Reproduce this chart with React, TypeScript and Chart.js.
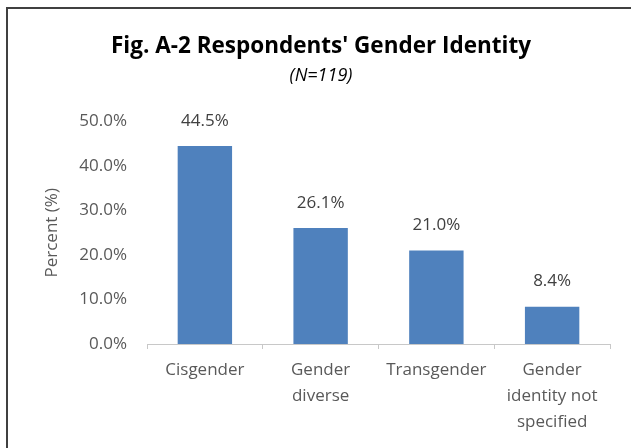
import React, { useEffect, useRef } from "react";
import { Chart, registerables } from "chart.js";

Chart.register(...registerables);

const categories: string[][] = [
  ["Cisgender"],
  ["Gender", "diverse"],
  ["Transgender"],
  ["Gender", "identity not", "specified"],
];
const percentValues: number[] = [44.5, 26.1, 21.0, 8.4];
const yTicks: number[] = [0, 10, 20, 30, 40, 50];
const titleText = "Fig. A-2 Respondents' Gender Identity";
const subtitleText = "(N=119)";
const yAxisTitle = "Percent (%)";

const FONT = "'Open Sans', 'Noto Sans', sans-serif";

const barLabelPlugin = {
  id: "barLabels",
  afterDatasetsDraw(chart: any) {
    const ctx = chart.ctx;
    const meta = chart.getDatasetMeta(0);
    ctx.save();
    ctx.font = `17px ${FONT}`;
    ctx.fillStyle = "#404040";
    ctx.textAlign = "center";
    ctx.textBaseline = "middle";
    meta.data.forEach((bar: any, i: number) => {
      const v = chart.data.datasets[0].data[i] as number;
      ctx.fillText(v.toFixed(1) + "%", bar.x, bar.y - 25);
    });
    ctx.restore();
  },
};

export default function App() {
  const canvasRef = useRef<HTMLCanvasElement | null>(null);

  useEffect(() => {
    if (!canvasRef.current) return;
    const chart = new Chart(canvasRef.current, {
      type: "bar",
      data: {
        labels: categories,
        datasets: [
          {
            data: percentValues,
            backgroundColor: "#4F81BD",
            borderWidth: 0,
            barPercentage: 0.47,
            categoryPercentage: 1,
          },
        ],
      },
      plugins: [barLabelPlugin],
      options: {
        responsive: false,
        animation: false,
        devicePixelRatio: 1,
        layout: { padding: { left: 32, right: 21, top: 0, bottom: 0 } },
        plugins: {
          legend: { display: false },
          tooltip: { enabled: false },
          title: {
            display: true,
            text: titleText,
            color: "#000000",
            font: { family: FONT, size: 22.5, weight: "bold", lineHeight: 1.2 },
            padding: { top: 33, bottom: 0 },
          },
          subtitle: {
            display: true,
            text: subtitleText,
            color: "#000000",
            font: { family: FONT, size: 18, style: "italic", lineHeight: 1.2 },
            padding: { top: 4.8, bottom: 35.2 },
          },
        },
        scales: {
          x: {
            grid: {
              display: true,
              drawOnChartArea: false,
              drawTicks: true,
              tickLength: 5,
              color: "#C8C8C8",
              offset: true,
            },
            border: { display: true, color: "#C8C8C8", width: 1 },
            ticks: {
              color: "#595959",
              font: { family: FONT, size: 17, lineHeight: 1.53 },
              padding: 8,
              maxRotation: 0,
              autoSkip: false,
            },
            afterFit(scale: any) {
              scale.height = 104;
            },
          },
          y: {
            min: 0,
            max: 50,
            afterBuildTicks(scale: any) {
              scale.ticks = yTicks.map((v) => ({ value: v }));
            },
            grid: { display: false, drawTicks: false },
            border: { display: false },
            ticks: {
              color: "#595959",
              font: { family: FONT, size: 17 },
              padding: 20,
              callback: (v: any) => Number(v).toFixed(1) + "%",
            },
            title: {
              display: true,
              text: yAxisTitle,
              color: "#595959",
              font: { family: FONT, size: 17, lineHeight: 1.2 },
              padding: { top: 9.8, bottom: 0 },
            },
            afterFit(scale: any) {
              scale.width = 115;
            },
          },
        },
      },
    });
    return () => chart.destroy();
  }, []);

  return (
    <div
      style={{
        position: "fixed",
        left: 0,
        top: 0,
        width: 631,
        height: 448,
        background: "#ffffff",
        overflow: "hidden",
      }}
    >
      <div
        style={{
          position: "absolute",
          left: 6,
          top: 7,
          width: 700,
          height: 500,
          borderLeft: "2px solid #404040",
          borderTop: "2px solid #404040",
        }}
      />
      <canvas
        ref={canvasRef}
        width={631}
        height={448}
        style={{ position: "absolute", left: 0, top: 0 }}
      />
    </div>
  );
}
